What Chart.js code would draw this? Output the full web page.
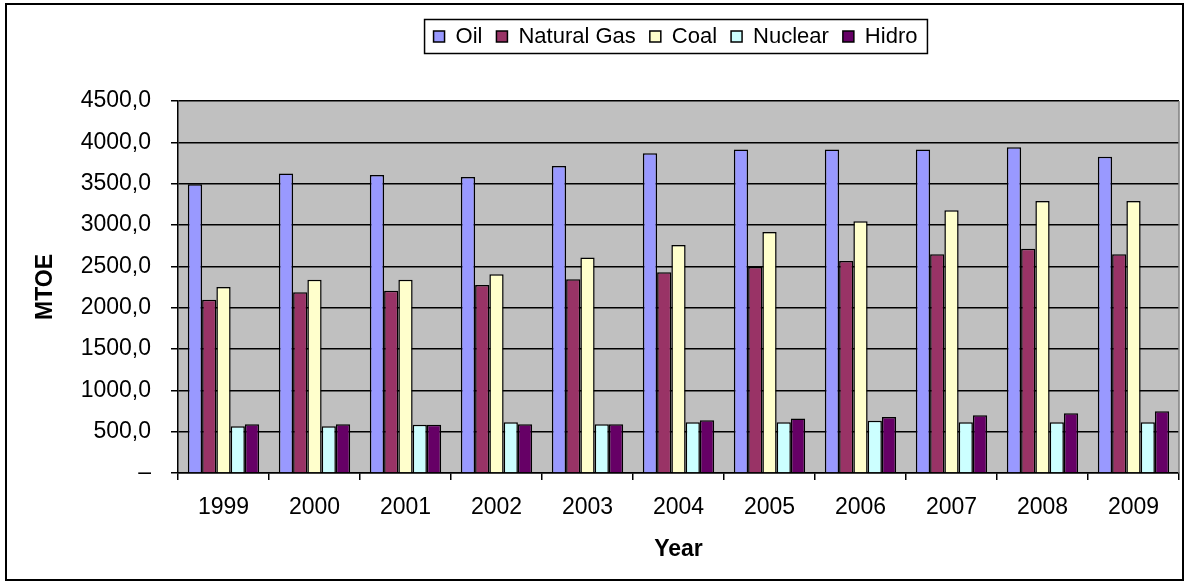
<!DOCTYPE html>
<html>
<head>
<meta charset="utf-8">
<script src="https://cdn.jsdelivr.net/npm/chart.js@4.4.1/dist/chart.umd.min.js"></script>
<style>
  html, body { margin: 0; padding: 0; background: #fff; }
  canvas { display: block; }
</style>
</head>
<body>
<canvas id="c" width="1190" height="585"></canvas>
<script>
// ---- data ----
const years = ['1999', '2000', '2001', '2002', '2003', '2004', '2005', '2006', '2007', '2008', '2009'];
const oil = [3494, 3622, 3605, 3581, 3714, 3867, 3912, 3912, 3912, 3940, 3827];
const naturalGas = [2097, 2186, 2206, 2274, 2343, 2428, 2492, 2564, 2645, 2714, 2645];
const coal = [2250, 2339, 2339, 2404, 2606, 2758, 2915, 3045, 3178, 3290, 3290];
const nuclear = [565, 565, 585, 613, 589, 613, 613, 633, 613, 613, 613];
const hidro = [589, 589, 585, 589, 589, 637, 658, 677, 698, 722, 746];
const seriesNames = ['Oil', 'Natural Gas', 'Coal', 'Nuclear', 'Hidro'];
const seriesData = [oil, naturalGas, coal, nuclear, hidro];
const seriesColors = ['#9999FF', '#993366', '#FFFFCC', '#CCFFFF', '#660066'];
const yMin = 0, yMax = 4500, yStep = 500;
const xTitle = 'Year';
const yTitle = 'MTOE';

Chart.defaults.font.family = '"Liberation Sans", Arial, sans-serif';
Chart.defaults.color = '#000';

const framePlugin = {
  id: 'frame',
  afterLayout(chart) {
    const lg = chart.legend;
    if (!lg) return;
    const dx = 675.5 - (lg.left + lg.right) / 2;
    const dy = 11.5 - lg.top;
    lg.left += dx; lg.right += dx;
    lg.top += dy; lg.bottom += dy;
  },
  beforeDraw(chart) {
    const { ctx, chartArea: a } = chart;
    ctx.save();
    ctx.fillStyle = '#ffffff';
    ctx.fillRect(0, 0, chart.width, chart.height);
    ctx.fillStyle = '#C0C0C0';
    ctx.fillRect(a.left, a.top, a.right - a.left, a.bottom - a.top);
    ctx.restore();
  },
  afterDraw(chart) {
    const { ctx, chartArea: a } = chart;
    ctx.save();
    // plot area right edge (gray)
    ctx.strokeStyle = '#808080';
    ctx.lineWidth = 1.5;
    ctx.beginPath();
    ctx.moveTo(a.right, a.top);
    ctx.lineTo(a.right, a.bottom);
    ctx.stroke();
    // legend frame
    const hb = chart.legend.legendHitBoxes;
    if (hb && hb.length) {
      const first = hb[0], last = hb[hb.length - 1];
      const x0 = first.left - 9;
      const x1 = last.left + last.width + 10;
      const y0 = first.top - 6;
      const y1 = first.top + first.height + 6;
      ctx.strokeStyle = '#000';
      ctx.lineWidth = 1.5;
      ctx.strokeRect(x0, y0, x1 - x0, y1 - y0);
    }
    // outer chart frame
    ctx.strokeStyle = '#000';
    ctx.lineWidth = 2;
    ctx.strokeRect(6, 4, 1177, 576);
    ctx.restore();
  }
};

new Chart(document.getElementById('c'), {
  type: 'bar',
  data: {
    labels: years,
    datasets: seriesNames.map((name, i) => ({
      label: name,
      data: seriesData[i],
      backgroundColor: seriesColors[i],
      borderColor: '#000',
      borderWidth: 1.5,
      barPercentage: 1,
      categoryPercentage: 0.7835
    }))
  },
  options: {
    responsive: false,
    animation: false,
    layout: { padding: { left: 12, right: 11, top: 55, bottom: 10 } },
    plugins: {
      legend: {
        position: 'top',
        labels: {
          boxWidth: 11,
          boxHeight: 11,
          padding: 14,
          color: '#000',
          font: { size: 22 }
        }
      },
      tooltip: { enabled: false }
    },
    scales: {
      x: {
        grid: { display: true, drawOnChartArea: false, drawTicks: true, tickLength: 7, color: '#000', lineWidth: 1.5, offset: true },
        border: { display: true, color: '#000', width: 1.5 },
        ticks: { color: '#000', font: { size: 23 }, padding: 14, maxRotation: 0, autoSkip: false },
        title: { display: true, text: xTitle, color: '#000', font: { size: 23, weight: 'bold' }, padding: { top: 0, bottom: 12 } },
        afterFit(s) { s.height = 102; }
      },
      y: {
        min: yMin,
        max: yMax,
        ticks: {
          stepSize: yStep,
          color: '#000',
          font: { size: 23 },
          padding: 20,
          callback: v => v === 0 ? '–' : v.toFixed(1).replace('.', ',')
        },
        grid: { color: '#000', lineWidth: 1.5, tickLength: 7, drawTicks: true },
        border: { display: true, color: '#000', width: 1.5 },
        title: { display: true, text: yTitle, color: '#000', font: { size: 23, weight: 'bold' }, padding: { top: 20, bottom: 0 } },
        afterFit(s) { s.width = 166; }
      }
    }
  },
  plugins: [framePlugin]
});
</script>
</body>
</html>
